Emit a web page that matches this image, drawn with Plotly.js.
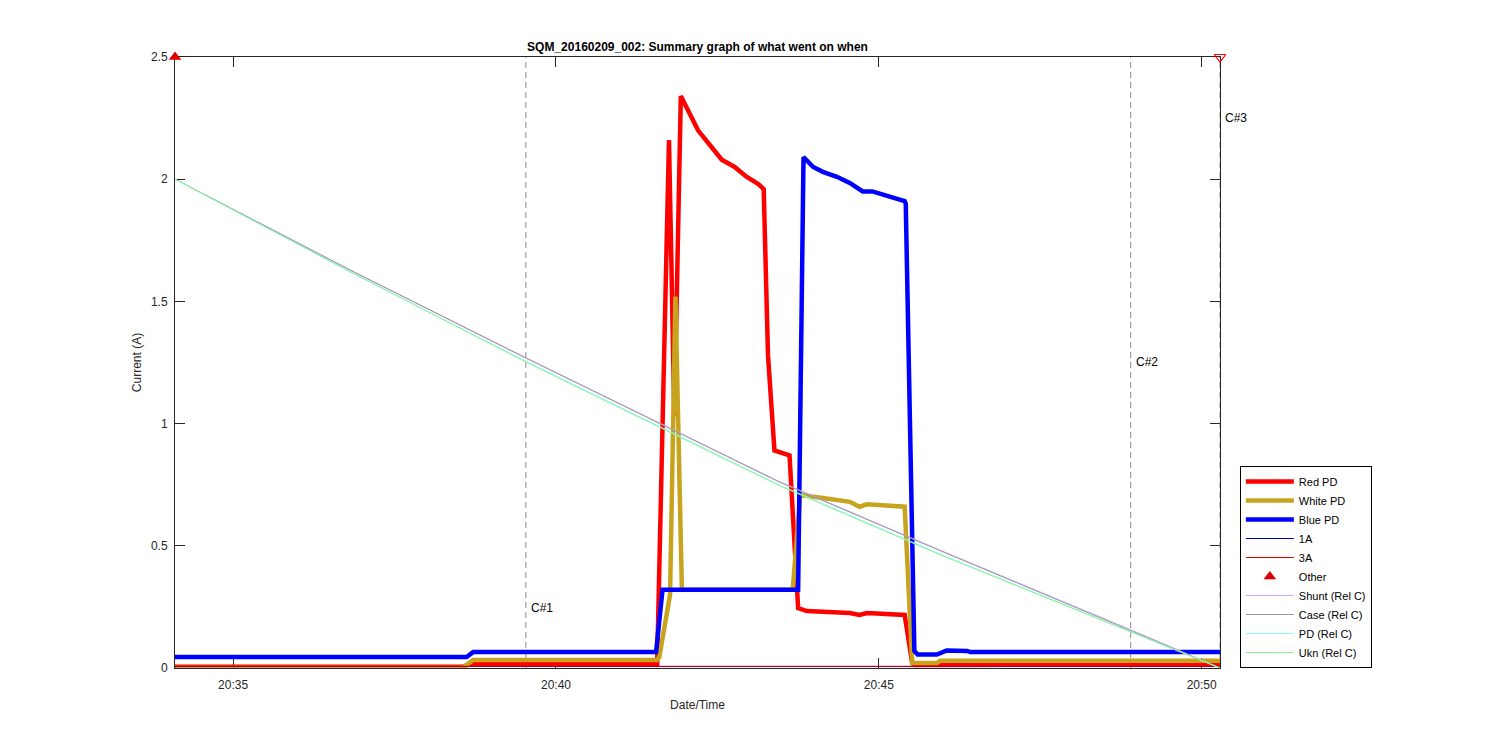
<!DOCTYPE html>
<html>
<head>
<meta charset="utf-8">
<script src="https://cdn.plot.ly/plotly-3.0.1.min.js"></script>
<style>html,body{margin:0;padding:0;background:#fff;} #chart{width:1500px;height:750px;}</style>
</head>
<body>
<div id="chart"></div>
<script>
// ---- data (times are 2016-02-09, HH:MM:SS) ----
const DAY = '2016-02-09 ';

const redTimes = ['20:34:06','20:38:33','20:38:40','20:41:34','20:41:45','20:41:50','20:41:56','20:42:03','20:42:12','20:42:23','20:42:34','20:42:46','20:42:57','20:43:08','20:43:13','20:43:17','20:43:23','20:43:37','20:43:45','20:43:53','20:44:33','20:44:42','20:44:49','20:45:24','20:45:31','20:45:33','20:50:17'];
const redValues = [0.005,0.005,0.016,0.016,2.16,1.03,2.34,2.28,2.20,2.14,2.08,2.05,2.01,1.98,1.96,1.28,0.89,0.87,0.245,0.233,0.225,0.217,0.225,0.217,0.02,0.012,0.015];

const whiteTimes = ['20:34:06','20:38:33','20:38:43','20:41:34','20:41:36','20:41:46','20:41:51','20:41:57','20:43:40','20:43:47','20:44:08','20:44:33','20:44:42','20:44:49','20:45:24','20:45:31','20:45:54','20:45:57','20:50:17'];
const whiteValues = [0.0,0.0,0.033,0.033,0.045,0.30,1.52,0.32,0.32,0.708,0.696,0.68,0.66,0.67,0.66,0.02,0.02,0.03,0.03];

const blueTimes = ['20:34:06','20:38:37','20:38:43','20:41:33','20:41:39','20:43:45','20:43:50','20:43:59','20:44:08','20:44:21','20:44:33','20:44:45','20:44:54','20:45:10','20:45:24','20:45:25','20:45:33','20:45:36','20:45:54','20:46:03','20:46:22','20:46:25','20:50:17'];
const blueValues = [0.045,0.045,0.065,0.065,0.32,0.32,2.09,2.05,2.03,2.01,1.985,1.95,1.95,1.93,1.91,1.90,0.07,0.055,0.055,0.072,0.07,0.065,0.065];

const refTimes = ['20:34:06','20:50:17'];
const oneAValues = [0.006,0.006];
const threeAValues = [0.007,0.007];

const relTimes = ['20:34:06','20:36:53','20:39:32','20:41:23','20:43:28','20:45:57','20:48:54','20:50:17'];
const shuntValues = [2.0,1.62,1.27,1.03,0.762,0.482,0.157,0.0];
const caseValues = [2.0,1.618,1.268,1.028,0.76,0.48,0.155,0.0];
const pdRelValues = [2.0,1.61,1.255,1.015,0.748,0.466,0.148,0.0];
const uknRelValues = [2.0,1.612,1.252,1.012,0.745,0.463,0.146,0.0];

const otherTimes = ['20:34:06'];
const otherValues = [2.5];
const endMarkTimes = ['20:50:17'];
const endMarkValues = [2.5];

const cursorTimes = ['20:39:32','20:48:54','20:50:17'];
const cursorLabels = ['C#1','C#2','C#3'];
const cursorLabelY = [0.245,1.252,2.25];

const xTickTimes = ['20:35:00','20:40:00','20:45:00','20:50:00'];
const xTickLabels = ['20:35','20:40','20:45','20:50'];
const yTickValues = [0,0.5,1,1.5,2,2.5];
const yTickLabels = ['0','0.5','1','1.5','2','2.5'];

const xRange = ['20:34:06','20:50:17'];
const yRange = [0,2.5];

// ---- build ----
const d = arr => arr.map(t => DAY + t);
const FONT = 'Liberation Sans, Arial, Helvetica, sans-serif';

const traces = [];
// cursor dashed lines (not in legend)
cursorTimes.forEach(t => {
  traces.push({x: d([t,t]), y: yRange, mode:'lines', type:'scatter', showlegend:false, hoverinfo:'skip',
    line:{color:'#8c8c8c', width:1, dash:'6px,4px'}});
});
traces.push(
  {name:'Red PD', x:d(redTimes), y:redValues, mode:'lines', type:'scatter', line:{color:'#ff0000', width:4.5}},
  {name:'White PD', x:d(whiteTimes), y:whiteValues, mode:'lines', type:'scatter', line:{color:'#c8a41e', width:4.5}},
  {name:'Blue PD', x:d(blueTimes), y:blueValues, mode:'lines', type:'scatter', line:{color:'#0000ff', width:4.5}},
  {name:'1A', x:d(refTimes), y:oneAValues, mode:'lines', type:'scatter', line:{color:'#0000cc', width:1}},
  {name:'3A', x:d(refTimes), y:threeAValues, mode:'lines', type:'scatter', line:{color:'#e00000', width:1}},
  {name:'Other', x:d(otherTimes), y:otherValues, mode:'markers', type:'scatter', cliponaxis:false,
    marker:{symbol:'triangle-up', color:'#dd0000', size:11}},
  {name:'Shunt (Rel C)', x:d(relTimes), y:shuntValues, mode:'lines', type:'scatter', line:{color:'#d0a8ff', width:1}},
  {name:'Case (Rel C)', x:d(relTimes), y:caseValues, mode:'lines', type:'scatter', line:{color:'#9a9a9a', width:1}},
  {name:'PD (Rel C)', x:d(relTimes), y:pdRelValues, mode:'lines', type:'scatter', line:{color:'#88ffff', width:1}},
  {name:'Ukn (Rel C)', x:d(relTimes), y:uknRelValues, mode:'lines', type:'scatter', line:{color:'#90f090', width:1}},
  {name:'end', x:d(endMarkTimes), y:endMarkValues, mode:'markers', type:'scatter', cliponaxis:false, showlegend:false,
    marker:{symbol:'triangle-down-open', color:'#ff0000', size:10, line:{width:1.2, color:'#ff0000'}}}
);

const annotations = cursorTimes.map((t,i) => ({
  x: DAY + t, y: cursorLabelY[i], xref:'x', yref:'y', text: cursorLabels[i], showarrow:false,
  xanchor:'left', yanchor:'middle', xshift:3, font:{family:FONT, size:12, color:'#000'}
}));

const axisCommon = {
  showline:true, linecolor:'#262626', linewidth:1, mirror:'ticks', ticks:'inside', ticklen:10,
  tickcolor:'#262626', tickwidth:1, showgrid:false, zeroline:false, layer:'below traces',
  tickfont:{family:FONT, size:12, color:'#262626'}
};

const layout = {
  width:1500, height:750,
  paper_bgcolor:'#ffffff', plot_bgcolor:'#ffffff',
  margin:{l:175, r:280, t:57, b:82},
  font:{family:FONT, color:'#262626'},
  title:{text:'<b>SQM_20160209_002: Summary graph of what went on when</b>', x:0.5, xref:'paper', xanchor:'center',
    y:1-47/750, yref:'container', yanchor:'middle', font:{family:FONT, size:12, color:'#000'}},
  xaxis: Object.assign({}, axisCommon, {
    type:'date', range:d(xRange), tickmode:'array', tickvals:d(xTickTimes), ticktext:xTickLabels,
    ticklabelstandoff:6,
    title:{text:'Date/Time', standoff:9, font:{family:FONT, size:12, color:'#262626'}}
  }),
  yaxis: Object.assign({}, axisCommon, {
    range:yRange, tickmode:'array', tickvals:yTickValues, ticktext:yTickLabels,
    ticklabelstandoff:4,
    title:{text:'Current (A)', standoff:6, font:{family:FONT, size:12, color:'#262626'}}
  }),
  legend:{x:1.019, y:0, xanchor:'left', yanchor:'bottom', bgcolor:'#ffffff', bordercolor:'#000', borderwidth:1,
    font:{family:FONT, size:11, color:'#000'}, itemwidth:48, tracegroupgap:0},
  showlegend:true,
  annotations: annotations
};

Plotly.newPlot('chart', traces, layout, {displayModeBar:false, staticPlot:true});
</script>
</body>
</html>
